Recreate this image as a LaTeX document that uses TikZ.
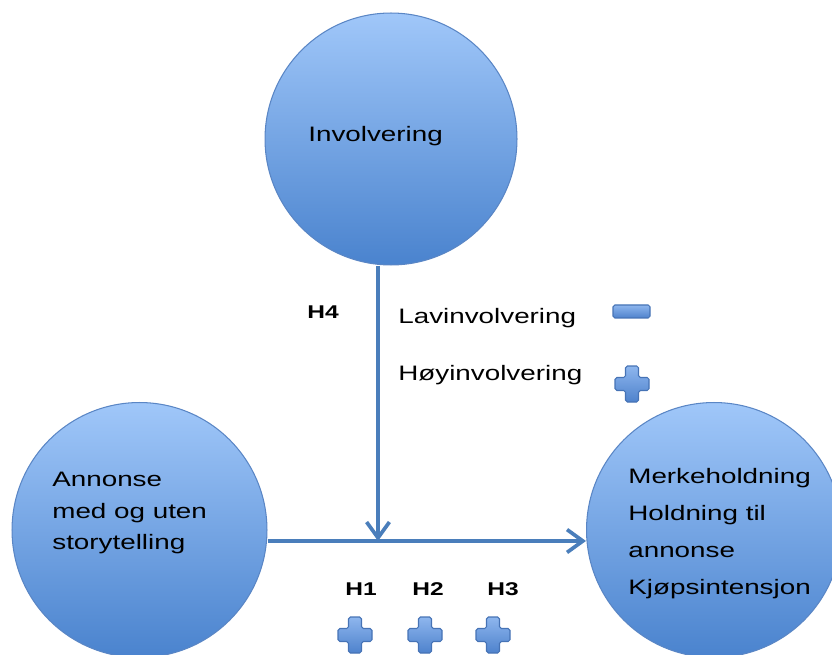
\documentclass[tikz,border=0pt]{standalone}
\usepackage{fontspec}
\setmainfont{Liberation Sans}[FakeStretch=1.33]
\usetikzlibrary{arrows.meta}
\definecolor{bubbletop}{HTML}{A0C7F9}
\definecolor{bubblebot}{HTML}{4A83CE}
\definecolor{bubbleline}{HTML}{5A86C5}
\definecolor{arrowblue}{HTML}{4A7EBB}
\definecolor{signtop}{HTML}{8EB6EE}
\definecolor{signbot}{HTML}{4E82CC}
\definecolor{signline}{HTML}{4673B5}

\begin{document}
\begin{tikzpicture}[
      x=0.02cm, y=-0.02cm,
      bubble/.style={
        circle, draw=bubbleline, line width=0.6pt,
        top color=bubbletop, bottom color=bubblebot,
        minimum size=5.1cm, inner sep=0pt
      },
      txt/.style={
        font=\fontsize{11.9}{17.9}\selectfont,
        inner sep=0pt, anchor=base west, text=black
      },
      hyp/.style={
        font=\fontsize{10.5}{12}\selectfont\bfseries,
        inner sep=0pt, anchor=base west
      },
      link/.style={
        draw=arrowblue, line width=2.1pt,
        -{Straight Barb[length=9pt,width=13pt]}
      },
      sign/.style={
        draw=signline, line width=0.6pt, rounded corners=1pt,
        top color=signtop, bottom color=signbot
      }
    ]
      \useasboundingbox (0,0) rectangle (832,655);
      \clip (0,0) rectangle (832,655);

      \node[bubble, minimum size=5.04cm] (inv) at (391,139){};
      \node[bubble] (ann) at (139.5,530){};
      \node[bubble] (eff) at (714,530){};

      \node[txt] (invtxt) at (308,142){Involvering};
      \node[txt, anchor=north west, align=left] (anntxt) at (52,472)
        {Annonse\\med og uten\\storytelling};
      \node[txt, anchor=north west, align=left,
        font=\fontsize{11.9}{21}\selectfont] (efftxt) at (628,468)
        {Merkeholdning\\Holdning til\\annonse\\Kjøpsintensjon};

      \coordinate (join) at (378,541);
      \draw[link] (inv.south -| join) -- (join);
      \draw[link] (ann.east |- join) -- (eff.west |- join);

      \node[hyp] (h4) at (307,318){H4};
      \node[txt] (low) at (398,323){Lavinvolvering};
      \node[txt] (high) at (398,380){Høyinvolvering};
      \foreach \x/\lab in {345/H1,412/H2,487/H3} {
        \node[hyp] (\lab) at (\x,595){\lab};
      }

      \path[sign] (613,305) rectangle (650,318);
      \foreach \px/\py in {355/635,425/635,493/635,632/384} {
        \path[sign, shift={(\px,\py)}] (-6.5,-18) -- (6.5,-18) -- (6.5,-6.5)
          -- (17,-6.5) -- (17,6.5) -- (6.5,6.5) -- (6.5,18) -- (-6.5,18)
          -- (-6.5,6.5) -- (-17,6.5) -- (-17,-6.5) -- (-6.5,-6.5) -- cycle;
      }
    \end{tikzpicture}
\end{document}
